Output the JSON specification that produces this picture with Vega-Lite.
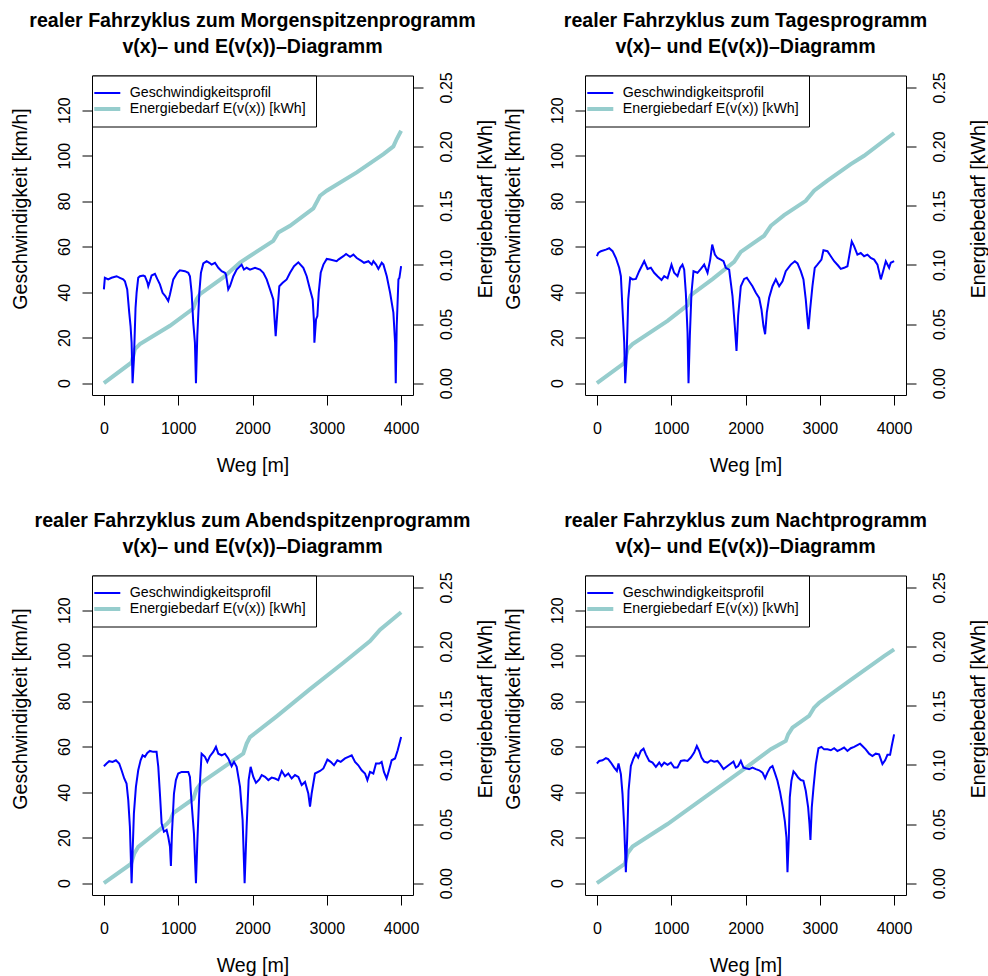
{
  "$schema": "https://vega.github.io/schema/vega-lite/v6.json",
  "background": "white",
  "padding": {"left": 9, "top": 10.5, "right": 0, "bottom": 0},
  "datasets": {
    "speed": [
      {"p":"M","x":0,"v":41.2},{"p":"M","x":13,"v":46.3},{"p":"M","x":58,"v":45.6},{"p":"M","x":103,"v":46.3},{"p":"M","x":171,"v":47.0},{"p":"M","x":215,"v":46.3},{"p":"M","x":260,"v":45.6},{"p":"M","x":283,"v":44.8},{"p":"M","x":314,"v":41.2},{"p":"M","x":341,"v":31.0},{"p":"M","x":359,"v":25.1},{"p":"M","x":373,"v":17.8},{"p":"M","x":386,"v":0},{"p":"M","x":404,"v":10.5},{"p":"M","x":426,"v":33.1},{"p":"M","x":440,"v":39.7},{"p":"M","x":462,"v":46.3},{"p":"M","x":485,"v":47.0},{"p":"M","x":530,"v":47.3},{"p":"M","x":552,"v":47.0},{"p":"M","x":584,"v":44.4},{"p":"M","x":597,"v":42.6},{"p":"M","x":619,"v":44.8},{"p":"M","x":642,"v":47.3},{"p":"M","x":687,"v":48.0},{"p":"M","x":718,"v":45.8},{"p":"M","x":754,"v":43.4},{"p":"M","x":790,"v":39.7},{"p":"M","x":826,"v":38.3},{"p":"M","x":866,"v":36.1},{"p":"M","x":889,"v":39.0},{"p":"M","x":934,"v":45.6},{"p":"M","x":988,"v":48.5},{"p":"M","x":1023,"v":49.6},{"p":"M","x":1091,"v":49.2},{"p":"M","x":1136,"v":48.5},{"p":"M","x":1158,"v":47.0},{"p":"M","x":1181,"v":39.7},{"p":"M","x":1203,"v":26.6},{"p":"M","x":1225,"v":17.8},{"p":"M","x":1239,"v":0},{"p":"M","x":1257,"v":20.7},{"p":"M","x":1284,"v":39.7},{"p":"M","x":1306,"v":48.5},{"p":"M","x":1338,"v":52.6},{"p":"M","x":1383,"v":53.6},{"p":"M","x":1419,"v":52.9},{"p":"M","x":1450,"v":52.1},{"p":"M","x":1495,"v":52.9},{"p":"M","x":1540,"v":50.7},{"p":"M","x":1585,"v":49.2},{"p":"M","x":1629,"v":48.5},{"p":"M","x":1643,"v":47.7},{"p":"M","x":1674,"v":41.2},{"p":"M","x":1697,"v":42.6},{"p":"M","x":1742,"v":47.0},{"p":"M","x":1787,"v":49.9},{"p":"M","x":1854,"v":52.1},{"p":"M","x":1885,"v":49.9},{"p":"M","x":1921,"v":50.7},{"p":"M","x":1966,"v":49.9},{"p":"M","x":2034,"v":50.7},{"p":"M","x":2101,"v":49.9},{"p":"M","x":2146,"v":48.5},{"p":"M","x":2191,"v":45.6},{"p":"M","x":2236,"v":41.2},{"p":"M","x":2280,"v":36.8},{"p":"M","x":2303,"v":25.1},{"p":"M","x":2312,"v":20.7},{"p":"M","x":2334,"v":31.0},{"p":"M","x":2361,"v":42.6},{"p":"M","x":2406,"v":44.1},{"p":"M","x":2460,"v":45.6},{"p":"M","x":2505,"v":48.5},{"p":"M","x":2559,"v":51.4},{"p":"M","x":2617,"v":53.1},{"p":"M","x":2684,"v":50.7},{"p":"M","x":2729,"v":47.0},{"p":"M","x":2774,"v":41.2},{"p":"M","x":2810,"v":36.8},{"p":"M","x":2828,"v":26.6},{"p":"M","x":2833,"v":17.8},{"p":"M","x":2855,"v":28.0},{"p":"M","x":2873,"v":29.5},{"p":"M","x":2891,"v":39.7},{"p":"M","x":2918,"v":48.5},{"p":"M","x":2954,"v":52.1},{"p":"M","x":2999,"v":54.6},{"p":"M","x":3044,"v":54.3},{"p":"M","x":3133,"v":53.6},{"p":"M","x":3156,"v":54.3},{"p":"M","x":3223,"v":55.8},{"p":"M","x":3259,"v":56.8},{"p":"M","x":3313,"v":55.5},{"p":"M","x":3358,"v":56.5},{"p":"M","x":3403,"v":55.0},{"p":"M","x":3470,"v":53.6},{"p":"M","x":3501,"v":52.9},{"p":"M","x":3560,"v":53.6},{"p":"M","x":3605,"v":52.1},{"p":"M","x":3627,"v":53.6},{"p":"M","x":3663,"v":52.1},{"p":"M","x":3694,"v":50.2},{"p":"M","x":3739,"v":52.9},{"p":"M","x":3762,"v":52.1},{"p":"M","x":3807,"v":47.0},{"p":"M","x":3852,"v":39.7},{"p":"M","x":3896,"v":31.0},{"p":"M","x":3919,"v":17.8},{"p":"M","x":3928,"v":0},{"p":"M","x":3941,"v":25.1},{"p":"M","x":3964,"v":45.6},{"p":"M","x":3977,"v":46.3},{"p":"M","x":4000,"v":51.4},

      {"p":"T","x":0,"v":55.8},{"p":"T","x":18,"v":57.2},{"p":"T","x":54,"v":58.0},{"p":"T","x":121,"v":58.7},{"p":"T","x":166,"v":59.3},{"p":"T","x":211,"v":58.0},{"p":"T","x":256,"v":55.0},{"p":"T","x":300,"v":50.7},{"p":"T","x":323,"v":47.0},{"p":"T","x":345,"v":32.4},{"p":"T","x":368,"v":17.8},{"p":"T","x":381,"v":0},{"p":"T","x":399,"v":10.5},{"p":"T","x":422,"v":36.8},{"p":"T","x":448,"v":46.3},{"p":"T","x":480,"v":45.6},{"p":"T","x":525,"v":45.8},{"p":"T","x":569,"v":49.2},{"p":"T","x":637,"v":53.6},{"p":"T","x":682,"v":50.2},{"p":"T","x":726,"v":50.7},{"p":"T","x":771,"v":48.5},{"p":"T","x":816,"v":47.0},{"p":"T","x":870,"v":45.3},{"p":"T","x":906,"v":47.0},{"p":"T","x":951,"v":46.1},{"p":"T","x":1004,"v":52.1},{"p":"T","x":1040,"v":48.5},{"p":"T","x":1085,"v":47.0},{"p":"T","x":1121,"v":50.7},{"p":"T","x":1152,"v":52.1},{"p":"T","x":1175,"v":49.9},{"p":"T","x":1197,"v":39.7},{"p":"T","x":1220,"v":22.2},{"p":"T","x":1233,"v":0},{"p":"T","x":1251,"v":20.7},{"p":"T","x":1273,"v":39.7},{"p":"T","x":1300,"v":49.2},{"p":"T","x":1354,"v":48.5},{"p":"T","x":1399,"v":50.2},{"p":"T","x":1444,"v":52.1},{"p":"T","x":1489,"v":48.5},{"p":"T","x":1525,"v":54.3},{"p":"T","x":1552,"v":60.9},{"p":"T","x":1588,"v":56.5},{"p":"T","x":1623,"v":55.0},{"p":"T","x":1668,"v":54.3},{"p":"T","x":1704,"v":53.6},{"p":"T","x":1735,"v":50.7},{"p":"T","x":1780,"v":49.9},{"p":"T","x":1825,"v":38.3},{"p":"T","x":1856,"v":25.1},{"p":"T","x":1879,"v":14.2},{"p":"T","x":1901,"v":29.5},{"p":"T","x":1937,"v":42.6},{"p":"T","x":1982,"v":45.8},{"p":"T","x":2018,"v":46.3},{"p":"T","x":2049,"v":44.8},{"p":"T","x":2094,"v":42.6},{"p":"T","x":2139,"v":39.7},{"p":"T","x":2184,"v":37.5},{"p":"T","x":2215,"v":32.4},{"p":"T","x":2242,"v":25.1},{"p":"T","x":2264,"v":21.5},{"p":"T","x":2287,"v":31.0},{"p":"T","x":2318,"v":37.5},{"p":"T","x":2363,"v":42.6},{"p":"T","x":2408,"v":45.6},{"p":"T","x":2453,"v":42.6},{"p":"T","x":2498,"v":44.8},{"p":"T","x":2542,"v":49.2},{"p":"T","x":2610,"v":52.1},{"p":"T","x":2664,"v":53.6},{"p":"T","x":2700,"v":52.6},{"p":"T","x":2744,"v":49.2},{"p":"T","x":2780,"v":45.6},{"p":"T","x":2811,"v":36.8},{"p":"T","x":2834,"v":28.0},{"p":"T","x":2847,"v":23.7},{"p":"T","x":2870,"v":32.4},{"p":"T","x":2901,"v":42.6},{"p":"T","x":2932,"v":50.7},{"p":"T","x":2968,"v":52.1},{"p":"T","x":3022,"v":54.3},{"p":"T","x":3049,"v":58.4},{"p":"T","x":3103,"v":58.0},{"p":"T","x":3148,"v":55.8},{"p":"T","x":3193,"v":53.6},{"p":"T","x":3246,"v":51.7},{"p":"T","x":3282,"v":50.2},{"p":"T","x":3327,"v":50.7},{"p":"T","x":3372,"v":51.4},{"p":"T","x":3403,"v":57.2},{"p":"T","x":3430,"v":62.3},{"p":"T","x":3461,"v":60.2},{"p":"T","x":3506,"v":56.5},{"p":"T","x":3551,"v":57.2},{"p":"T","x":3596,"v":55.8},{"p":"T","x":3641,"v":56.5},{"p":"T","x":3686,"v":55.0},{"p":"T","x":3731,"v":54.3},{"p":"T","x":3776,"v":52.1},{"p":"T","x":3821,"v":45.6},{"p":"T","x":3852,"v":49.2},{"p":"T","x":3888,"v":53.6},{"p":"T","x":3933,"v":50.7},{"p":"T","x":3955,"v":52.9},{"p":"T","x":4000,"v":53.6},

      {"p":"A","x":0,"v":51.4},{"p":"A","x":36,"v":52.6},{"p":"A","x":72,"v":53.6},{"p":"A","x":117,"v":53.3},{"p":"A","x":162,"v":54.0},{"p":"A","x":206,"v":52.6},{"p":"A","x":238,"v":49.6},{"p":"A","x":274,"v":46.0},{"p":"A","x":305,"v":43.8},{"p":"A","x":328,"v":36.5},{"p":"A","x":350,"v":24.8},{"p":"A","x":373,"v":0},{"p":"A","x":386,"v":13.1},{"p":"A","x":404,"v":30.7},{"p":"A","x":431,"v":42.3},{"p":"A","x":462,"v":49.6},{"p":"A","x":494,"v":54.0},{"p":"A","x":521,"v":56.2},{"p":"A","x":552,"v":55.5},{"p":"A","x":584,"v":57.2},{"p":"A","x":619,"v":58.1},{"p":"A","x":664,"v":57.7},{"p":"A","x":709,"v":57.7},{"p":"A","x":732,"v":51.1},{"p":"A","x":754,"v":39.4},{"p":"A","x":777,"v":26.3},{"p":"A","x":808,"v":22.6},{"p":"A","x":844,"v":23.4},{"p":"A","x":866,"v":20.4},{"p":"A","x":889,"v":16.1},{"p":"A","x":902,"v":7.6},{"p":"A","x":916,"v":21.9},{"p":"A","x":943,"v":39.4},{"p":"A","x":969,"v":45.3},{"p":"A","x":1000,"v":48.2},{"p":"A","x":1046,"v":48.9},{"p":"A","x":1091,"v":48.9},{"p":"A","x":1136,"v":48.9},{"p":"A","x":1158,"v":46.7},{"p":"A","x":1181,"v":35.0},{"p":"A","x":1212,"v":21.9},{"p":"A","x":1239,"v":0},{"p":"A","x":1257,"v":17.5},{"p":"A","x":1284,"v":39.4},{"p":"A","x":1315,"v":56.9},{"p":"A","x":1360,"v":55.5},{"p":"A","x":1392,"v":53.3},{"p":"A","x":1427,"v":55.8},{"p":"A","x":1472,"v":57.7},{"p":"A","x":1508,"v":59.9},{"p":"A","x":1540,"v":56.9},{"p":"A","x":1585,"v":56.2},{"p":"A","x":1629,"v":56.9},{"p":"A","x":1674,"v":54.8},{"p":"A","x":1719,"v":51.4},{"p":"A","x":1751,"v":53.3},{"p":"A","x":1787,"v":51.1},{"p":"A","x":1832,"v":42.3},{"p":"A","x":1867,"v":27.7},{"p":"A","x":1894,"v":0},{"p":"A","x":1921,"v":24.8},{"p":"A","x":1948,"v":45.3},{"p":"A","x":1975,"v":51.1},{"p":"A","x":2011,"v":46.7},{"p":"A","x":2047,"v":44.1},{"p":"A","x":2092,"v":45.6},{"p":"A","x":2124,"v":47.5},{"p":"A","x":2168,"v":46.7},{"p":"A","x":2213,"v":45.3},{"p":"A","x":2258,"v":46.4},{"p":"A","x":2303,"v":46.0},{"p":"A","x":2348,"v":45.3},{"p":"A","x":2393,"v":49.3},{"p":"A","x":2438,"v":47.0},{"p":"A","x":2482,"v":48.2},{"p":"A","x":2527,"v":46.0},{"p":"A","x":2572,"v":47.5},{"p":"A","x":2617,"v":46.7},{"p":"A","x":2662,"v":43.1},{"p":"A","x":2707,"v":44.5},{"p":"A","x":2751,"v":39.4},{"p":"A","x":2774,"v":33.6},{"p":"A","x":2796,"v":39.4},{"p":"A","x":2841,"v":48.2},{"p":"A","x":2909,"v":49.3},{"p":"A","x":2954,"v":50.4},{"p":"A","x":3008,"v":54.3},{"p":"A","x":3052,"v":53.3},{"p":"A","x":3097,"v":51.8},{"p":"A","x":3142,"v":54.0},{"p":"A","x":3187,"v":53.3},{"p":"A","x":3245,"v":54.8},{"p":"A","x":3290,"v":55.5},{"p":"A","x":3335,"v":56.2},{"p":"A","x":3380,"v":53.3},{"p":"A","x":3424,"v":51.8},{"p":"A","x":3469,"v":49.6},{"p":"A","x":3514,"v":48.2},{"p":"A","x":3546,"v":45.3},{"p":"A","x":3581,"v":48.9},{"p":"A","x":3626,"v":48.2},{"p":"A","x":3662,"v":52.6},{"p":"A","x":3707,"v":52.6},{"p":"A","x":3738,"v":53.3},{"p":"A","x":3769,"v":48.9},{"p":"A","x":3805,"v":46.0},{"p":"A","x":3837,"v":49.6},{"p":"A","x":3873,"v":54.0},{"p":"A","x":3918,"v":54.8},{"p":"A","x":3954,"v":58.4},{"p":"A","x":4000,"v":64.2},

      {"p":"N","x":0,"v":52.6},{"p":"N","x":31,"v":53.7},{"p":"N","x":76,"v":54.0},{"p":"N","x":121,"v":54.9},{"p":"N","x":152,"v":54.5},{"p":"N","x":188,"v":53.0},{"p":"N","x":233,"v":50.8},{"p":"N","x":269,"v":49.3},{"p":"N","x":291,"v":52.6},{"p":"N","x":323,"v":47.9},{"p":"N","x":345,"v":39.1},{"p":"N","x":368,"v":24.5},{"p":"N","x":390,"v":4.8},{"p":"N","x":408,"v":20.1},{"p":"N","x":426,"v":40.6},{"p":"N","x":457,"v":51.5},{"p":"N","x":489,"v":54.5},{"p":"N","x":525,"v":56.9},{"p":"N","x":556,"v":55.2},{"p":"N","x":592,"v":58.1},{"p":"N","x":628,"v":59.1},{"p":"N","x":659,"v":56.6},{"p":"N","x":704,"v":53.7},{"p":"N","x":749,"v":53.0},{"p":"N","x":794,"v":51.1},{"p":"N","x":839,"v":53.0},{"p":"N","x":870,"v":51.5},{"p":"N","x":906,"v":53.0},{"p":"N","x":951,"v":52.0},{"p":"N","x":995,"v":53.0},{"p":"N","x":1040,"v":50.8},{"p":"N","x":1085,"v":50.8},{"p":"N","x":1130,"v":53.7},{"p":"N","x":1175,"v":54.0},{"p":"N","x":1220,"v":53.7},{"p":"N","x":1264,"v":55.2},{"p":"N","x":1309,"v":57.4},{"p":"N","x":1345,"v":60.3},{"p":"N","x":1377,"v":58.1},{"p":"N","x":1408,"v":55.2},{"p":"N","x":1444,"v":53.4},{"p":"N","x":1489,"v":53.0},{"p":"N","x":1534,"v":54.0},{"p":"N","x":1578,"v":53.4},{"p":"N","x":1623,"v":53.7},{"p":"N","x":1659,"v":52.3},{"p":"N","x":1704,"v":50.1},{"p":"N","x":1758,"v":51.5},{"p":"N","x":1803,"v":52.6},{"p":"N","x":1838,"v":53.4},{"p":"N","x":1870,"v":50.8},{"p":"N","x":1901,"v":51.5},{"p":"N","x":1937,"v":53.7},{"p":"N","x":1973,"v":50.8},{"p":"N","x":2004,"v":50.5},{"p":"N","x":2049,"v":50.1},{"p":"N","x":2094,"v":50.8},{"p":"N","x":2139,"v":50.1},{"p":"N","x":2184,"v":49.6},{"p":"N","x":2229,"v":48.6},{"p":"N","x":2264,"v":46.1},{"p":"N","x":2296,"v":48.6},{"p":"N","x":2332,"v":50.8},{"p":"N","x":2363,"v":51.5},{"p":"N","x":2394,"v":48.6},{"p":"N","x":2430,"v":45.0},{"p":"N","x":2466,"v":39.9},{"p":"N","x":2502,"v":33.3},{"p":"N","x":2529,"v":27.4},{"p":"N","x":2551,"v":20.1},{"p":"N","x":2565,"v":4.8},{"p":"N","x":2583,"v":20.1},{"p":"N","x":2596,"v":37.7},{"p":"N","x":2618,"v":45.0},{"p":"N","x":2646,"v":49.1},{"p":"N","x":2677,"v":47.9},{"p":"N","x":2708,"v":46.4},{"p":"N","x":2744,"v":45.3},{"p":"N","x":2780,"v":45.0},{"p":"N","x":2811,"v":40.6},{"p":"N","x":2843,"v":33.3},{"p":"N","x":2861,"v":26.0},{"p":"N","x":2874,"v":19.0},{"p":"N","x":2892,"v":33.3},{"p":"N","x":2915,"v":42.0},{"p":"N","x":2946,"v":52.3},{"p":"N","x":2982,"v":59.3},{"p":"N","x":3022,"v":59.9},{"p":"N","x":3058,"v":58.8},{"p":"N","x":3103,"v":58.8},{"p":"N","x":3148,"v":58.4},{"p":"N","x":3193,"v":59.3},{"p":"N","x":3237,"v":58.1},{"p":"N","x":3282,"v":58.8},{"p":"N","x":3327,"v":59.6},{"p":"N","x":3372,"v":58.1},{"p":"N","x":3417,"v":59.3},{"p":"N","x":3462,"v":59.9},{"p":"N","x":3506,"v":60.7},{"p":"N","x":3542,"v":61.3},{"p":"N","x":3573,"v":60.3},{"p":"N","x":3618,"v":58.8},{"p":"N","x":3663,"v":56.9},{"p":"N","x":3708,"v":55.9},{"p":"N","x":3753,"v":56.9},{"p":"N","x":3798,"v":56.6},{"p":"N","x":3843,"v":52.3},{"p":"N","x":3879,"v":54.0},{"p":"N","x":3910,"v":56.4},{"p":"N","x":3946,"v":56.4},{"p":"N","x":3968,"v":60.3},{"p":"N","x":4000,"v":65.4}
    ],
    "energy": [
      {"p":"M","x":0,"e":0},{"p":"M","x":373,"e":0.0175},{"p":"M","x":417,"e":0.0287},{"p":"M","x":485,"e":0.0330},{"p":"M","x":889,"e":0.0485},{"p":"M","x":1203,"e":0.0631},{"p":"M","x":1248,"e":0.0710},{"p":"M","x":1293,"e":0.0752},{"p":"M","x":1607,"e":0.0893},{"p":"M","x":1832,"e":0.1020},{"p":"M","x":2280,"e":0.1203},{"p":"M","x":2348,"e":0.1274},{"p":"M","x":2505,"e":0.1330},{"p":"M","x":2819,"e":0.1477},{"p":"M","x":2909,"e":0.1584},{"p":"M","x":2999,"e":0.1626},{"p":"M","x":3403,"e":0.1781},{"p":"M","x":3762,"e":0.1936},{"p":"M","x":3896,"e":0.2001},{"p":"M","x":3941,"e":0.2063},{"p":"M","x":4000,"e":0.2133},

      {"p":"T","x":0,"e":0},{"p":"T","x":368,"e":0.0169},{"p":"T","x":413,"e":0.0287},{"p":"T","x":480,"e":0.0330},{"p":"T","x":951,"e":0.0527},{"p":"T","x":1220,"e":0.0659},{"p":"T","x":1264,"e":0.0744},{"p":"T","x":1556,"e":0.0879},{"p":"T","x":1847,"e":0.1026},{"p":"T","x":1937,"e":0.1110},{"p":"T","x":2251,"e":0.1246},{"p":"T","x":2341,"e":0.1330},{"p":"T","x":2520,"e":0.1420},{"p":"T","x":2811,"e":0.1541},{"p":"T","x":2923,"e":0.1626},{"p":"T","x":3103,"e":0.1711},{"p":"T","x":3417,"e":0.1851},{"p":"T","x":3596,"e":0.1922},{"p":"T","x":4000,"e":0.2114},

      {"p":"A","x":0,"e":0},{"p":"A","x":364,"e":0.0162},{"p":"A","x":409,"e":0.0251},{"p":"A","x":462,"e":0.0307},{"p":"A","x":853,"e":0.0503},{"p":"A","x":898,"e":0.0536},{"p":"A","x":934,"e":0.0592},{"p":"A","x":1203,"e":0.0712},{"p":"A","x":1248,"e":0.0796},{"p":"A","x":1315,"e":0.0852},{"p":"A","x":1876,"e":0.1095},{"p":"A","x":1921,"e":0.1179},{"p":"A","x":1966,"e":0.1234},{"p":"A","x":2325,"e":0.1410},{"p":"A","x":2774,"e":0.1640},{"p":"A","x":3223,"e":0.1863},{"p":"A","x":3582,"e":0.2045},{"p":"A","x":3717,"e":0.2142},{"p":"A","x":4000,"e":0.2290},

      {"p":"N","x":0,"e":0},{"p":"N","x":377,"e":0.0163},{"p":"N","x":413,"e":0.0253},{"p":"N","x":480,"e":0.0309},{"p":"N","x":951,"e":0.0500},{"p":"N","x":1399,"e":0.0702},{"p":"N","x":1937,"e":0.0944},{"p":"N","x":2341,"e":0.1132},{"p":"N","x":2542,"e":0.1202},{"p":"N","x":2574,"e":0.1258},{"p":"N","x":2632,"e":0.1315},{"p":"N","x":2856,"e":0.1413},{"p":"N","x":2923,"e":0.1483},{"p":"N","x":2991,"e":0.1525},{"p":"N","x":3417,"e":0.1717},{"p":"N","x":3865,"e":0.1918},{"p":"N","x":4000,"e":0.1975}
    ]
  },
  "columns": 2,
  "spacing": {"row": 180, "column": 172},
  "bounds": "flush",
  "resolve": {"scale": {"color": "independent"}},
  "concat": [
    {
      "width": 321, "height": 319.5,
      "title": {"text": ["realer Fahrzyklus zum Morgenspitzenprogramm", "v(x)– und E(v(x))–Diagramm"]},
      "resolve": {"scale": {"y": "independent"}},
      "layer": [
        {
          "data": {"name": "energy"},
          "transform": [{"filter": "datum.p === 'M'"}],
          "mark": {"type": "line", "strokeWidth": 4},
          "encoding": {
            "x": {"field": "x", "type": "quantitative", "scale": {"domain": [-160, 4160], "nice": false, "zero": false}, "axis": {"values": [0, 1000, 2000, 3000, 4000], "format": "d", "title": "Weg [m]", "labelBaseline": "top", "labelPadding": 15, "titleY": 70, "titleBaseline": "middle"}},
            "y": {"field": "e", "type": "quantitative", "scale": {"domain": [-0.01, 0.26], "nice": false, "zero": false}, "axis": {"orient": "right", "values": [0, 0.05, 0.1, 0.15, 0.2, 0.25], "format": ".2f", "title": "Energiebedarf [kWh]", "labelAngle": 270, "labelAlign": "center", "labelBaseline": "middle", "labelPadding": 23.5, "titleAngle": 270, "titleAlign": "center", "titleBaseline": "middle", "titleX": 72, "titleY": 133}},
            "color": {"datum": "Energiebedarf E(v(x)) [kWh]", "scale": {"domain": ["Geschwindigkeitsprofil", "Energiebedarf E(v(x)) [kWh]"], "range": ["#0000ff", "#96cdcd"]}, "legend": {"encode": {"symbols": {"update": {"shape": {"signal": "datum.value === 'Geschwindigkeitsprofil' ? 'M-1.857,0H1.857' : 'M-1.857,-0.143H1.857M-1.857,0H1.857M-1.857,0.143H1.857'"}}}}}}
          }
        },
        {
          "data": {"name": "speed"},
          "transform": [{"filter": "datum.p === 'M'"}],
          "mark": {"type": "line", "strokeWidth": 2},
          "encoding": {
            "x": {"field": "x", "type": "quantitative", "scale": {"domain": [-160, 4160], "nice": false, "zero": false}, "axis": {"values": [0, 1000, 2000, 3000, 4000], "format": "d", "title": "Weg [m]", "labelBaseline": "top", "labelPadding": 15, "titleY": 70, "titleBaseline": "middle"}},
            "y": {"field": "v", "type": "quantitative", "scale": {"domain": [-5.2, 135.2], "nice": false, "zero": false}, "axis": {"orient": "left", "values": [0, 20, 40, 60, 80, 100, 120], "title": "Geschwindigkeit [km/h]", "labelAngle": 270, "labelAlign": "center", "labelBaseline": "middle", "labelPadding": 18, "titleAngle": 270, "titleAlign": "center", "titleBaseline": "middle", "titleX": -72, "titleY": 133}},
            "color": {"datum": "Geschwindigkeitsprofil", "scale": {"domain": ["Geschwindigkeitsprofil", "Energiebedarf E(v(x)) [kWh]"], "range": ["#0000ff", "#96cdcd"]}, "legend": {"encode": {"symbols": {"update": {"shape": {"signal": "datum.value === 'Geschwindigkeitsprofil' ? 'M-1.857,0H1.857' : 'M-1.857,-0.143H1.857M-1.857,0H1.857M-1.857,0.143H1.857'"}}}}}}
          }
        }
      ]
    },
    {
      "width": 321, "height": 319.5,
      "title": {"text": ["realer Fahrzyklus zum Tagesprogramm", "v(x)– und E(v(x))–Diagramm"]},
      "resolve": {"scale": {"y": "independent"}},
      "layer": [
        {
          "data": {"name": "energy"},
          "transform": [{"filter": "datum.p === 'T'"}],
          "mark": {"type": "line", "strokeWidth": 4},
          "encoding": {
            "x": {"field": "x", "type": "quantitative", "scale": {"domain": [-160, 4160], "nice": false, "zero": false}, "axis": {"values": [0, 1000, 2000, 3000, 4000], "format": "d", "title": "Weg [m]", "labelBaseline": "top", "labelPadding": 15, "titleY": 70, "titleBaseline": "middle"}},
            "y": {"field": "e", "type": "quantitative", "scale": {"domain": [-0.01, 0.26], "nice": false, "zero": false}, "axis": {"orient": "right", "values": [0, 0.05, 0.1, 0.15, 0.2, 0.25], "format": ".2f", "title": "Energiebedarf [kWh]", "labelAngle": 270, "labelAlign": "center", "labelBaseline": "middle", "labelPadding": 23.5, "titleAngle": 270, "titleAlign": "center", "titleBaseline": "middle", "titleX": 72, "titleY": 133}},
            "color": {"datum": "Energiebedarf E(v(x)) [kWh]", "scale": {"domain": ["Geschwindigkeitsprofil", "Energiebedarf E(v(x)) [kWh]"], "range": ["#0000ff", "#96cdcd"]}, "legend": {"encode": {"symbols": {"update": {"shape": {"signal": "datum.value === 'Geschwindigkeitsprofil' ? 'M-1.857,0H1.857' : 'M-1.857,-0.143H1.857M-1.857,0H1.857M-1.857,0.143H1.857'"}}}}}}
          }
        },
        {
          "data": {"name": "speed"},
          "transform": [{"filter": "datum.p === 'T'"}],
          "mark": {"type": "line", "strokeWidth": 2},
          "encoding": {
            "x": {"field": "x", "type": "quantitative", "scale": {"domain": [-160, 4160], "nice": false, "zero": false}, "axis": {"values": [0, 1000, 2000, 3000, 4000], "format": "d", "title": "Weg [m]", "labelBaseline": "top", "labelPadding": 15, "titleY": 70, "titleBaseline": "middle"}},
            "y": {"field": "v", "type": "quantitative", "scale": {"domain": [-5.2, 135.2], "nice": false, "zero": false}, "axis": {"orient": "left", "values": [0, 20, 40, 60, 80, 100, 120], "title": "Geschwindigkeit [km/h]", "labelAngle": 270, "labelAlign": "center", "labelBaseline": "middle", "labelPadding": 18, "titleAngle": 270, "titleAlign": "center", "titleBaseline": "middle", "titleX": -72, "titleY": 133}},
            "color": {"datum": "Geschwindigkeitsprofil", "scale": {"domain": ["Geschwindigkeitsprofil", "Energiebedarf E(v(x)) [kWh]"], "range": ["#0000ff", "#96cdcd"]}, "legend": {"encode": {"symbols": {"update": {"shape": {"signal": "datum.value === 'Geschwindigkeitsprofil' ? 'M-1.857,0H1.857' : 'M-1.857,-0.143H1.857M-1.857,0H1.857M-1.857,0.143H1.857'"}}}}}}
          }
        }
      ]
    },
    {
      "width": 321, "height": 319.5,
      "title": {"text": ["realer Fahrzyklus zum Abendspitzenprogramm", "v(x)– und E(v(x))–Diagramm"]},
      "resolve": {"scale": {"y": "independent"}},
      "layer": [
        {
          "data": {"name": "energy"},
          "transform": [{"filter": "datum.p === 'A'"}],
          "mark": {"type": "line", "strokeWidth": 4},
          "encoding": {
            "x": {"field": "x", "type": "quantitative", "scale": {"domain": [-160, 4160], "nice": false, "zero": false}, "axis": {"values": [0, 1000, 2000, 3000, 4000], "format": "d", "title": "Weg [m]", "labelBaseline": "top", "labelPadding": 15, "titleY": 70, "titleBaseline": "middle"}},
            "y": {"field": "e", "type": "quantitative", "scale": {"domain": [-0.01, 0.26], "nice": false, "zero": false}, "axis": {"orient": "right", "values": [0, 0.05, 0.1, 0.15, 0.2, 0.25], "format": ".2f", "title": "Energiebedarf [kWh]", "labelAngle": 270, "labelAlign": "center", "labelBaseline": "middle", "labelPadding": 23.5, "titleAngle": 270, "titleAlign": "center", "titleBaseline": "middle", "titleX": 72, "titleY": 133}},
            "color": {"datum": "Energiebedarf E(v(x)) [kWh]", "scale": {"domain": ["Geschwindigkeitsprofil", "Energiebedarf E(v(x)) [kWh]"], "range": ["#0000ff", "#96cdcd"]}, "legend": {"encode": {"symbols": {"update": {"shape": {"signal": "datum.value === 'Geschwindigkeitsprofil' ? 'M-1.857,0H1.857' : 'M-1.857,-0.143H1.857M-1.857,0H1.857M-1.857,0.143H1.857'"}}}}}}
          }
        },
        {
          "data": {"name": "speed"},
          "transform": [{"filter": "datum.p === 'A'"}],
          "mark": {"type": "line", "strokeWidth": 2},
          "encoding": {
            "x": {"field": "x", "type": "quantitative", "scale": {"domain": [-160, 4160], "nice": false, "zero": false}, "axis": {"values": [0, 1000, 2000, 3000, 4000], "format": "d", "title": "Weg [m]", "labelBaseline": "top", "labelPadding": 15, "titleY": 70, "titleBaseline": "middle"}},
            "y": {"field": "v", "type": "quantitative", "scale": {"domain": [-5.2, 135.2], "nice": false, "zero": false}, "axis": {"orient": "left", "values": [0, 20, 40, 60, 80, 100, 120], "title": "Geschwindigkeit [km/h]", "labelAngle": 270, "labelAlign": "center", "labelBaseline": "middle", "labelPadding": 18, "titleAngle": 270, "titleAlign": "center", "titleBaseline": "middle", "titleX": -72, "titleY": 133}},
            "color": {"datum": "Geschwindigkeitsprofil", "scale": {"domain": ["Geschwindigkeitsprofil", "Energiebedarf E(v(x)) [kWh]"], "range": ["#0000ff", "#96cdcd"]}, "legend": {"encode": {"symbols": {"update": {"shape": {"signal": "datum.value === 'Geschwindigkeitsprofil' ? 'M-1.857,0H1.857' : 'M-1.857,-0.143H1.857M-1.857,0H1.857M-1.857,0.143H1.857'"}}}}}}
          }
        }
      ]
    },
    {
      "width": 321, "height": 319.5,
      "title": {"text": ["realer Fahrzyklus zum Nachtprogramm", "v(x)– und E(v(x))–Diagramm"]},
      "resolve": {"scale": {"y": "independent"}},
      "layer": [
        {
          "data": {"name": "energy"},
          "transform": [{"filter": "datum.p === 'N'"}],
          "mark": {"type": "line", "strokeWidth": 4},
          "encoding": {
            "x": {"field": "x", "type": "quantitative", "scale": {"domain": [-160, 4160], "nice": false, "zero": false}, "axis": {"values": [0, 1000, 2000, 3000, 4000], "format": "d", "title": "Weg [m]", "labelBaseline": "top", "labelPadding": 15, "titleY": 70, "titleBaseline": "middle"}},
            "y": {"field": "e", "type": "quantitative", "scale": {"domain": [-0.01, 0.26], "nice": false, "zero": false}, "axis": {"orient": "right", "values": [0, 0.05, 0.1, 0.15, 0.2, 0.25], "format": ".2f", "title": "Energiebedarf [kWh]", "labelAngle": 270, "labelAlign": "center", "labelBaseline": "middle", "labelPadding": 23.5, "titleAngle": 270, "titleAlign": "center", "titleBaseline": "middle", "titleX": 72, "titleY": 133}},
            "color": {"datum": "Energiebedarf E(v(x)) [kWh]", "scale": {"domain": ["Geschwindigkeitsprofil", "Energiebedarf E(v(x)) [kWh]"], "range": ["#0000ff", "#96cdcd"]}, "legend": {"encode": {"symbols": {"update": {"shape": {"signal": "datum.value === 'Geschwindigkeitsprofil' ? 'M-1.857,0H1.857' : 'M-1.857,-0.143H1.857M-1.857,0H1.857M-1.857,0.143H1.857'"}}}}}}
          }
        },
        {
          "data": {"name": "speed"},
          "transform": [{"filter": "datum.p === 'N'"}],
          "mark": {"type": "line", "strokeWidth": 2},
          "encoding": {
            "x": {"field": "x", "type": "quantitative", "scale": {"domain": [-160, 4160], "nice": false, "zero": false}, "axis": {"values": [0, 1000, 2000, 3000, 4000], "format": "d", "title": "Weg [m]", "labelBaseline": "top", "labelPadding": 15, "titleY": 70, "titleBaseline": "middle"}},
            "y": {"field": "v", "type": "quantitative", "scale": {"domain": [-5.2, 135.2], "nice": false, "zero": false}, "axis": {"orient": "left", "values": [0, 20, 40, 60, 80, 100, 120], "title": "Geschwindigkeit [km/h]", "labelAngle": 270, "labelAlign": "center", "labelBaseline": "middle", "labelPadding": 18, "titleAngle": 270, "titleAlign": "center", "titleBaseline": "middle", "titleX": -72, "titleY": 133}},
            "color": {"datum": "Geschwindigkeitsprofil", "scale": {"domain": ["Geschwindigkeitsprofil", "Energiebedarf E(v(x)) [kWh]"], "range": ["#0000ff", "#96cdcd"]}, "legend": {"encode": {"symbols": {"update": {"shape": {"signal": "datum.value === 'Geschwindigkeitsprofil' ? 'M-1.857,0H1.857' : 'M-1.857,-0.143H1.857M-1.857,0H1.857M-1.857,0.143H1.857'"}}}}}}
          }
        }
      ]
    }
  ],
  "config": {
    "font": "Liberation Sans",
    "view": {"stroke": "#000000", "strokeWidth": 1},
    "axis": {
      "domain": false, "grid": false,
      "tickColor": "#000000", "tickSize": 10, "tickWidth": 1,
      "labelFont": "Liberation Sans", "labelFontSize": 16, "labelColor": "#000000",
      "labelFlush": false, "labelOverlap": false,
      "titleFont": "Liberation Sans", "titleFontSize": 19.6, "titleFontWeight": "normal", "titleColor": "#000000"
    },
    "title": {
      "font": "Liberation Sans", "fontSize": 19.6, "fontWeight": "bold", "color": "#000000",
      "lineHeight": 26, "anchor": "middle", "frame": "group", "baseline": "bottom", "offset": 14
    },
    "legend": {
      "orient": "top-left", "offset": 0, "padding": 9.5,
      "strokeColor": "#000000", "fillColor": "#ffffff",
      "symbolType": "M-1.857,0H1.857", "symbolSize": 196, "symbolStrokeWidth": 2, "symbolOffset": -2.2,
      "labelFont": "Liberation Sans", "labelFontSize": 14.2, "labelColor": "#000000", "labelOffset": 14.5, "labelLimit": 400,
      "rowPadding": 0
    }
  }
}
